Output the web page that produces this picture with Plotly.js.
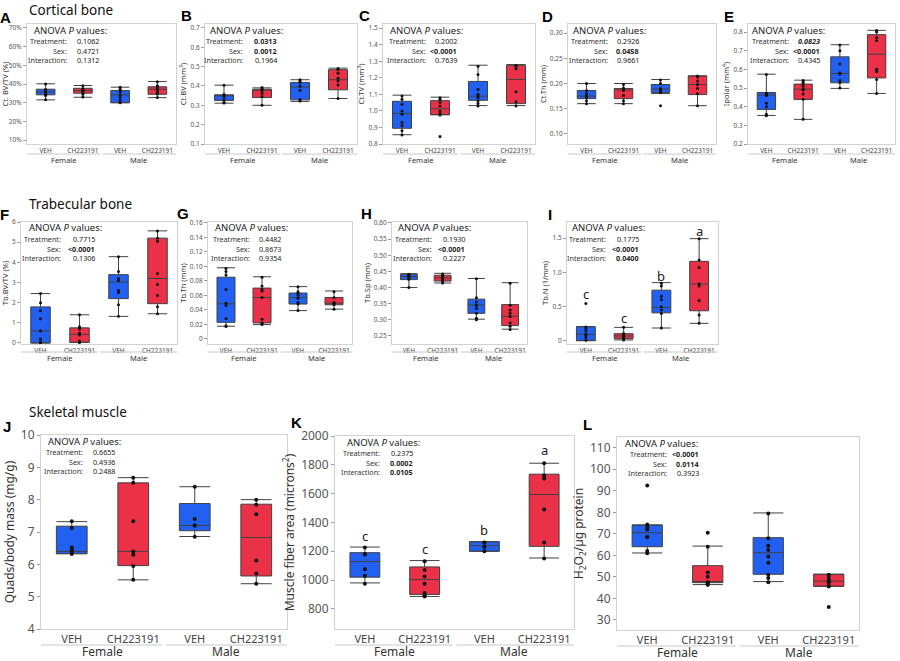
<!DOCTYPE html>
<html><head><meta charset="utf-8">
<script src="https://cdn.plot.ly/plotly-3.0.1.min.js"></script>
<style>body{margin:0;background:#fff}#chart{width:900px;height:661px}</style>
</head><body><div id="chart"></div>
<script>
// ---------- DATA ----------
const categories = ['VEH','CH223191','VEH','CH223191'];
const sexes = ['Female','Male'];
const anovaLabels = ['Treatment:','Sex:','Interaction:'];
const sectionTitles = ['Cortical bone','Trabecular bone','Skeletal muscle'];
const panelLetters = ['A','B','C','D','E','F','G','H','I','J','K','L'];

// A  Ct. BV/TV (%)
const A_q1=[34.2,35.1,30.0,34.5], A_med=[35.8,36.5,34.2,37.2], A_q3=[37.2,37.7,36.5,38.5], A_lo=[31.5,32.9,30.0,32.7], A_hi=[40.1,39.2,38.3,41.3];
const A_pts=[[40.0,37.0,36.3,35.8,35.2,34.5,33.8,31.6],[39.0,37.5,36.9,36.5,36.0,35.4,34.5,33.0],[38.2,37.2,35.8,34.2,33.0,31.4,30.4,30.0],[41.2,39.0,38.2,37.2,36.4,35.6,34.6,32.8]];
const A_anova=['0.1062','0.4721','0.1312'];
// B  Ct.BV
const B_q1=[0.325,0.340,0.328,0.380], B_med=[0.350,0.378,0.394,0.432], B_q3=[0.354,0.383,0.418,0.484], B_lo=[0.311,0.300,0.320,0.335], B_hi=[0.404,0.390,0.432,0.492];
const B_pts=[[0.404,0.356,0.352,0.345,0.330,0.316,0.312],[0.392,0.386,0.380,0.376,0.362,0.345,0.300],[0.432,0.426,0.418,0.400,0.378,0.330,0.322],[0.490,0.484,0.466,0.440,0.425,0.405,0.335]];
const B_anova=['0.0313','0.0012','0.1964'];
// C  Ct.TV
const C_q1=[0.895,0.977,1.064,1.044], C_med=[0.985,1.013,1.089,1.19], C_q3=[1.058,1.062,1.178,1.276], C_lo=[0.856,0.977,1.032,1.032], C_hi=[1.095,1.083,1.276,1.28];
const C_pts=[[1.09,1.07,1.04,1.00,0.98,0.93,0.91,0.88,0.855],[1.08,1.07,1.05,1.03,1.00,0.985,0.975,0.845],[1.27,1.22,1.13,1.10,1.09,1.08,1.06,1.045,1.03],[1.275,1.27,1.255,1.115,1.055,1.03]];
const C_anova=['0.2002','<0.0001','0.7639'];
// D  Ct.Th
const D_q1=[0.170,0.170,0.182,0.178], D_med=[0.175,0.187,0.189,0.198], D_q3=[0.186,0.190,0.198,0.215], D_lo=[0.160,0.160,0.180,0.156], D_hi=[0.200,0.200,0.208,0.215];
const D_pts=[[0.200,0.186,0.180,0.176,0.174,0.172,0.166,0.160],[0.198,0.191,0.189,0.186,0.176,0.166,0.160],[0.207,0.200,0.190,0.187,0.185,0.182,0.156],[0.215,0.213,0.205,0.198,0.190,0.180,0.156]];
const D_anova=['0.2926','0.0458','0.9661'];
// E  Ipolar
const E_q1=[0.385,0.439,0.528,0.554], E_med=[0.462,0.494,0.578,0.681], E_q3=[0.476,0.521,0.667,0.786], E_lo=[0.353,0.332,0.498,0.471], E_hi=[0.574,0.542,0.732,0.809];
const E_pts=[[0.573,0.472,0.466,0.46,0.418,0.40,0.36,0.352],[0.54,0.534,0.524,0.51,0.494,0.49,0.468,0.44,0.332],[0.730,0.700,0.628,0.580,0.575,0.540,0.530,0.500],[0.808,0.800,0.770,0.755,0.600,0.588,0.545,0.471]];
const E_anova=['0.0823','<0.0001','0.4345'];
// F  Tb.BV/TV
const F_q1=[0.0,0.03,2.2,1.95], F_med=[0.6,0.43,3.02,3.2], F_q3=[1.79,0.75,3.39,5.2], F_lo=[0.0,0.03,1.32,1.45], F_hi=[2.45,1.4,4.28,5.56];
const F_pts=[[2.45,2.0,1.6,1.2,0.6,0.2,0.05,0.0],[1.4,0.8,0.7,0.5,0.4,0.1,0.05,0.02],[4.28,3.55,3.2,3.1,2.6,2.5,1.9,1.32],[5.55,5.2,5.05,3.45,2.9,2.35,1.8,1.45]];
const F_anova=['0.7715','<0.0001','0.1306'];
// G  Tb.Th
const G_q1=[0.0228,0.022,0.048,0.047], G_med=[0.0484,0.0569,0.057,0.0493], G_q3=[0.085,0.070,0.0632,0.057], G_lo=[0.0175,0.0197,0.039,0.041], G_hi=[0.098,0.0856,0.072,0.066];
const G_pts=[[0.097,0.093,0.088,0.068,0.049,0.046,0.028,0.018,0.017],[0.085,0.073,0.068,0.066,0.057,0.027,0.022,0.021,0.020],[0.072,0.065,0.063,0.060,0.056,0.050,0.048,0.039],[0.065,0.057,0.050,0.049,0.048,0.047,0.041]];
const G_anova=['0.4482','0.8673','0.9354'];
const G_ticks=[0,0.02,0.04,0.06,0.08,0.10,0.12,0.14,0.16], G_tickText=['0','0.02','0.04','0.06','0.08','0.10','0.12','0.14','0.16'];
// H  Tb.Sp
const H_q1=[0.4245,0.420,0.320,0.282], H_med=[0.434,0.430,0.346,0.311], H_q3=[0.441,0.438,0.364,0.347], H_lo=[0.400,0.414,0.302,0.271], H_hi=[0.443,0.444,0.428,0.415];
const H_pts=[[0.441,0.438,0.435,0.432,0.430,0.426,0.400],[0.442,0.437,0.432,0.430,0.425,0.420,0.414],[0.427,0.368,0.355,0.345,0.335,0.320,0.305,0.300],[0.413,0.345,0.330,0.320,0.310,0.290,0.280,0.270]];
const H_anova=['0.1930','<0.0001','0.2227'];
// I  Tb.N
const I_q1=[0.005,0.034,0.41,0.44], I_med=[0.097,0.073,0.489,0.83], I_q3=[0.208,0.106,0.74,1.16], I_lo=[0.005,0.015,0.189,0.257], I_hi=[0.21,0.198,0.85,1.49];
const I_pts=[[0.547,0.205,0.18,0.15,0.10,0.08,0.05,0.01],[0.20,0.11,0.09,0.075,0.07,0.05,0.035,0.015],[0.84,0.80,0.65,0.60,0.50,0.45,0.40,0.19],[1.49,1.18,1.07,0.83,0.80,0.59,0.38,0.26]];
const I_anova=['0.1775','<0.0001','0.0400'];
const I_letters=['c','c','b','a'], I_letterY=[0.69,0.33,0.94,1.60];
const I_ticks=[0,0.5,1.0,1.5], I_tickText=['0','0.5','1.0','1.5'];
// J  Quads/body mass
const J_q1=[6.33,5.96,7.04,5.64], J_med=[6.40,6.40,7.20,6.83], J_q3=[7.18,8.52,7.88,7.86], J_lo=[6.33,5.52,6.86,5.40], J_hi=[7.32,8.68,8.40,8.00];
const J_pts=[[7.33,7.12,6.52,6.45,6.40,6.38,6.32],[8.68,8.52,7.33,6.40,6.30,5.95,5.52],[8.40,7.40,7.20,7.20,6.85],[8.00,7.84,7.55,6.12,5.72,5.40]];
const J_anova=['0.6655','0.4936','0.2488'];
// K  Muscle fiber area
const K_q1=[1020,900,1200,1234], K_med=[1128,1003,1239,1594], K_q3=[1190,1091,1266,1735], K_lo=[980,886,1200,1153], K_hi=[1229,1135,1266,1811];
const K_pts=[[1225,1180,1178,1075,1030,975],[1130,1070,1025,975,910,895,885],[1260,1258,1230,1200],[1810,1725,1705,1490,1260,1150]];
const K_anova=['0.2375','0.0002','0.0105'];
const K_letters=['c','c','b','a'], K_letterY=[1308,1213,1347,1905];
// L  H2O2
const L_q1=[64.0,47.3,51.2,45.6], L_med=[70.5,47.8,61.2,48.0], L_q3=[74.1,55.2,68.2,51.2], L_lo=[61.1,46.4,47.8,45.6], L_hi=[74.1,64.3,79.7,51.2];
const L_pts=[[92.5,74.3,73,72,68.5,68.5,62,61],[70.5,64,52,50,47.5,47.2,47,46.5,46.3],[79.5,68,64.5,62.5,59.5,56.5,51,49.5,47.5],[51,50.5,49,48,47.5,46,45.5,36]];
const L_anova=['<0.0001','0.0114','0.3923'];

const yTitles=['Ct. BV/TV (%)','Ct.BV (mm<sup>3</sup>)','Ct.TV (mm<sup>3</sup>)','Ct.Th (mm)','Ipolar (mm<sup>4</sup>)',
 'Tb.BV/TV (%)','Tb.Th (mm)','Tb.Sp (mm)','Tb.N (1/mm)',
 'Quads/body mass (mg/g)','Muscle fiber area (microns<sup>2</sup>)','H<sub>2</sub>O<sub>2</sub>/µg protein'];

// ---------- LAYOUT / STYLE ----------
const W=900,H=661;
const BLUE='#2160f0', RED='#ea3147';
const FONT='Noto Sans';
const panels=[
 {q1:A_q1,med:A_med,q3:A_q3,lo:A_lo,hi:A_hi,pts:A_pts,anova:A_anova,bold:[0,0,0],box:[27,176,24,144],range:[7.9,72.1],tick0:10,dtick:10,suffix:'%',row:0,off:[5,42,74]},
 {q1:B_q1,med:B_med,q3:B_q3,lo:B_lo,hi:B_hi,pts:B_pts,anova:B_anova,bold:[1,1,0],box:[205,357,24,144],range:[0.1,0.72],tick0:0.1,dtick:0.1,fmt:'.1f',row:0,off:[3,40,74]},
 {q1:C_q1,med:C_med,q3:C_q3,lo:C_lo,hi:C_hi,pts:C_pts,anova:C_anova,bold:[0,1,0],box:[383,535,24,144],range:[0.8,1.525],tick0:0.8,dtick:0.1,fmt:'.1f',row:0,off:[5,45,76]},
 {q1:D_q1,med:D_med,q3:D_q3,lo:D_lo,hi:D_hi,pts:D_pts,anova:D_anova,bold:[0,1,0],box:[568,716,24,144],range:[0.08,0.318],tick0:0.1,dtick:0.05,fmt:'.2f',row:0,off:[3,42,73]},
 {q1:E_q1,med:E_med,q3:E_q3,lo:E_lo,hi:E_hi,pts:E_pts,anova:E_anova,bold:[2,1,0],box:[748,895,24,144],range:[0.2,0.843],tick0:0.2,dtick:0.1,fmt:'.1f',row:0,off:[2,43,74]},
 {q1:F_q1,med:F_med,q3:F_q3,lo:F_lo,hi:F_hi,pts:F_pts,anova:F_anova,bold:[0,1,0],box:[21,177,222,344],range:[-0.05,6.0],tick0:0,dtick:1,row:1,off:[6,42,76]},
 {q1:G_q1,med:G_med,q3:G_q3,lo:G_lo,hi:G_hi,pts:G_pts,anova:G_anova,bold:[0,0,0],box:[208,352,222,344],range:[-0.007,0.161],tickvals:G_ticks,ticktext:G_tickText,row:1,off:[5,44,75]},
 {q1:H_q1,med:H_med,q3:H_q3,lo:H_lo,hi:H_hi,pts:H_pts,anova:H_anova,bold:[0,1,0],box:[392,527,222,344],range:[0.225,0.603],tick0:0.25,dtick:0.05,fmt:'.2f',row:1,off:[4,42,75]},
 {q1:I_q1,med:I_med,q3:I_q3,lo:I_lo,hi:I_hi,pts:I_pts,anova:I_anova,bold:[0,1,1],box:[567,718,222,344],range:[-0.044,1.733],tickvals:I_ticks,ticktext:I_tickText,row:1,off:[3,41,74],letters:I_letters,letterY:I_letterY},
 {q1:J_q1,med:J_med,q3:J_q3,lo:J_lo,hi:J_hi,pts:J_pts,anova:J_anova,bold:[0,0,0],box:[41,287,435,629],range:[4,10],tick0:4,dtick:1,row:2,off:[5,44,76]},
 {q1:K_q1,med:K_med,q3:K_q3,lo:K_lo,hi:K_hi,pts:K_pts,anova:K_anova,bold:[0,1,1],box:[335,574,436,629],range:[660,2000],tick0:800,dtick:200,row:2,off:[10,47,80],letters:K_letters,letterY:K_letterY},
 {q1:L_q1,med:L_med,q3:L_q3,lo:L_lo,hi:L_hi,pts:L_pts,anova:L_anova,bold:[1,1,0],box:[617,859,437,630],range:[25.3,115],tick0:30,dtick:10,row:2,off:[6,52,84]}
];
const rowStyle=[
 {ytick:6.5,xtick:6.5,ytitle:7.5,group:7.5,groupShift:16,sepShift:10,pt:3,letter:13,standoff:2},
 {ytick:6.5,xtick:6.5,ytitle:7.5,group:7.5,groupShift:14,sepShift:8,pt:3,letter:13,standoff:2},
 {ytick:12,xtick:11,ytitle:12,group:12,groupShift:22,sepShift:16,pt:4,letter:13,standoff:3}
];
const letterPos=[[5,17],[186,15],[364,15],[547,16],[729,16],[4,214],[183,213],[366,213],[550,214],[7,426],[296,422],[587,425]];
const sectionPos=[[27,10],[27,204],[27,412]];

const esc=s=>s.replace(/</g,'&lt;');
const traces=[], annotations=[], shapes=[];
const layout={width:W,height:H,margin:{l:0,r:0,t:0,b:0},paper_bgcolor:'#fff',plot_bgcolor:'#fff',
  showlegend:false,boxmode:'overlay',font:{family:FONT,color:'#333'}};

panels.forEach((p,i)=>{
  const n=i+1, xa=n===1?'x':'x'+n, ya=n===1?'y':'y'+n;
  const rs=rowStyle[p.row];
  const [l,r,t,b]=p.box; const h=b-t;
  const sel=(arr,idx)=>idx.map(k=>arr[k]);
  [[0,2],[1,3]].forEach((idx,c)=>{
    traces.push({type:'box',x:idx,q1:sel(p.q1,idx),median:sel(p.med,idx),q3:sel(p.q3,idx),
      lowerfence:sel(p.lo,idx),upperfence:sel(p.hi,idx),width:0.5,whiskerwidth:1,
      fillcolor:c===0?BLUE:RED,line:{color:'#404040',width:1},boxpoints:false,
      xaxis:xa,yaxis:ya,hoverinfo:'skip'});
  });
  const px=[],py=[];
  p.pts.forEach((g,gi)=>g.forEach(v=>{px.push(gi);py.push(v);}));
  traces.push({type:'scatter',mode:'markers',x:px,y:py,xaxis:xa,yaxis:ya,
    marker:{color:'#111',size:rs.pt},hoverinfo:'skip'});
  layout[n===1?'xaxis':'xaxis'+n]={domain:[l/W,r/W],anchor:ya,range:[-0.5,3.5],
    tickvals:[0,1,2,3],ticktext:categories,showline:true,mirror:true,linecolor:'#d2d2d2',
    showgrid:false,zeroline:false,ticks:'',tickfont:{size:rs.xtick,color:'#444'},fixedrange:true};
  const yax={domain:[1-b/H,1-t/H],anchor:xa,range:p.range,showline:true,mirror:true,linecolor:'#d2d2d2',
    showgrid:false,zeroline:false,ticks:'outside',ticklen:3,tickcolor:'#999',
    tickfont:{size:rs.ytick,color:'#555'},
    title:{text:yTitles[i],font:{size:rs.ytitle,color:'#333'},standoff:rs.standoff},fixedrange:true};
  if(p.tickvals){yax.tickvals=p.tickvals;yax.ticktext=p.ticktext;}
  else{yax.tick0=p.tick0;yax.dtick=p.dtick;if(p.fmt)yax.tickformat=p.fmt;if(p.suffix)yax.ticksuffix=p.suffix;}
  layout[n===1?'yaxis':'yaxis'+n]=yax;
  // group labels + separators
  sexes.forEach((s,k)=>{
    annotations.push({xref:xa,yref:ya+' domain',x:0.5+2*k,y:0,yshift:-rs.groupShift,yanchor:'middle',
      text:s,showarrow:false,font:{size:rs.group,color:'#333'}});
  });
  const sy=-rs.sepShift/h;
  shapes.push({type:'line',xref:xa,yref:ya+' domain',x0:-0.5,x1:1.47,y0:sy,y1:sy,line:{color:'#c8c8c8',width:1}});
  shapes.push({type:'line',xref:xa,yref:ya+' domain',x0:1.53,x1:3.5,y0:sy,y1:sy,line:{color:'#c8c8c8',width:1}});
  // ANOVA block
  annotations.push({xref:xa+' domain',yref:ya+' domain',x:0,y:1,xanchor:'left',yanchor:'middle',
    xshift:p.off[0],yshift:-6,text:'ANOVA <i>P</i> values:',showarrow:false,font:{size:9.5,color:'#222'}});
  const rowsY=[-17,-26.7,-36.4];
  anovaLabels.forEach((lab,k)=>{
    annotations.push({xref:xa+' domain',yref:ya+' domain',x:0,y:1,xanchor:'right',yanchor:'middle',
      xshift:p.off[1],yshift:rowsY[k],text:lab,showarrow:false,font:{size:7.2,color:'#333'}});
    let v=esc(p.anova[k]);
    if(p.bold[k]===1)v='<b>'+v+'</b>'; else if(p.bold[k]===2)v='<b><i>'+v+'</i></b>';
    annotations.push({xref:xa+' domain',yref:ya+' domain',x:0,y:1,xanchor:'right',yanchor:'middle',
      xshift:p.off[2],yshift:rowsY[k],text:v,showarrow:false,font:{size:7.2,color:'#222'}});
  });
  if(p.letters){
    p.letters.forEach((L,k)=>annotations.push({xref:xa,yref:ya,x:k,y:p.letterY[k],text:L,showarrow:false,
      font:{size:rs.letter,color:'#222'}}));
  }
  // panel letter
  annotations.push({xref:'paper',yref:'paper',x:letterPos[i][0]/W,y:1-letterPos[i][1]/H,xanchor:'center',yanchor:'middle',
    text:'<b>'+panelLetters[i]+'</b>',showarrow:false,font:{family:'Liberation Sans',size:15,color:'#000'}});
});
sectionTitles.forEach((s,k)=>annotations.push({xref:'paper',yref:'paper',x:sectionPos[k][0]/W,y:1-sectionPos[k][1]/H,
  xanchor:'left',yanchor:'middle',text:s,showarrow:false,font:{size:13.5,color:'#111'}}));
layout.annotations=annotations; layout.shapes=shapes;
Plotly.newPlot('chart',traces,layout,{staticPlot:true,displayModeBar:false});
</script></body></html>
